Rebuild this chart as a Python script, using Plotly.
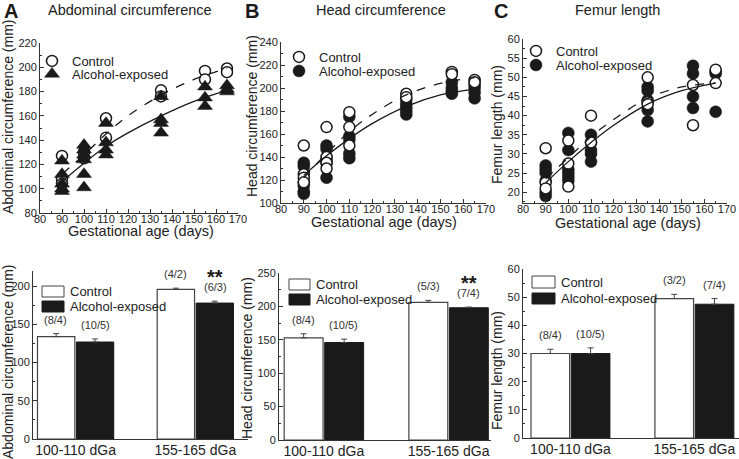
import plotly.graph_objects as go

W, H = 739, 459

# ---- growth data ----
abd_ctrl_x = [90, 90, 90, 100, 100, 110, 110, 135, 135, 155, 155, 165, 165]
abd_ctrl_y = [127, 108, 104, 130, 125, 158, 142, 181, 176, 197, 190, 199, 196]
abd_alc_x = [90, 90, 90, 90, 90, 100, 100, 100, 100, 100, 100, 110, 110, 110, 110,
             135, 135, 135, 135, 155, 155, 155, 165, 165, 165]
abd_alc_y = [123, 112, 104, 100, 98, 136, 132, 128, 124, 112, 101, 154, 138, 132, 128,
             176, 157, 154, 146, 184, 175, 168, 185, 182, 180]

head_ctrl_x = [90, 90, 90, 90, 100, 100, 100, 100, 110, 110, 110, 135, 135, 155, 155, 165, 165]
head_ctrl_y = [150, 125, 122, 118, 166, 140, 135, 130, 179, 166, 150, 195, 192, 214, 212, 207, 205]
head_alc_x = [90, 90, 90, 90, 90, 90, 100, 100, 100, 100, 100, 110, 110, 110, 110, 110,
              135, 135, 135, 135, 135, 155, 155, 155, 155, 165, 165, 165, 165]
head_alc_y = [135, 132, 118, 115, 110, 108, 150, 147, 138, 135, 122, 175, 158, 155, 143, 139,
              190, 186, 183, 180, 177, 205, 200, 197, 195, 203, 200, 196, 191]

fem_ctrl_x = [90, 90, 90, 100, 100, 100, 110, 110, 135, 135, 135, 155, 155, 165, 165]
fem_ctrl_y = [31.5, 22.5, 21, 33.5, 27.5, 21.5, 40, 33, 50, 43.5, 43, 48, 37.5, 52, 48.5]
fem_alc_x = [90, 90, 90, 90, 90, 90, 100, 100, 100, 100, 100, 100, 110, 110, 110, 110, 110,
             135, 135, 135, 135, 135, 155, 155, 155, 155, 165, 165, 165]
fem_alc_y = [27, 26, 25, 23, 20, 19, 35.5, 31, 26, 25, 24, 23, 35, 33, 31, 30, 28,
             47.5, 46.5, 44, 41.5, 38.5, 53, 51, 45, 42, 51.5, 51, 41]

# fitted curves
fit_x = [90, 100, 110, 120, 135, 150, 165]
abd_ctrl_fit = [112, 128, 145, 160, 177, 190, 199]
abd_alc_fit = [106, 121, 135, 146, 160, 172, 181]
head_ctrl_fit = [122, 143, 162, 177, 194, 204, 209]
head_alc_fit = [124, 141, 156, 169, 184, 194, 199]
fem_ctrl_fit = [23.5, 29, 34.5, 39, 44.5, 47.5, 48.5]
fem_alc_fit = [22.5, 28, 33, 37.5, 43, 46.5, 48.5]

# ---- group means ----
groups = ["100-110 dGa", "155-165 dGa"]
abd_ctrl_mean, abd_ctrl_err = [134, 196], [4, 1.5]
abd_alc_mean, abd_alc_err = [127, 178], [4, 2.5]
head_ctrl_mean, head_ctrl_err = [153, 206], [6, 3]
head_alc_mean, head_alc_err = [146, 198], [5, 1]
fem_ctrl_mean, fem_ctrl_err = [30, 49.5], [1.5, 1.5]
fem_alc_mean, fem_alc_err = [30, 47.5], [2, 2]
abd_n_ctrl, abd_n_alc = ["(8/4)", "(4/2)"], ["(10/5)", "(6/3)"]
head_n_ctrl, head_n_alc = ["(8/4)", "(5/3)"], ["(10/5)", "(7/4)"]
fem_n_ctrl, fem_n_alc = ["(8/4)", "(3/2)"], ["(10/5)", "(7/4)"]

FONT = "Liberation Sans, Arial, sans-serif"
INK = "#1a1a1a"
TXT = "#222"


def px(x):
    return x / W


def py(y):
    return 1 - y / H


fig = go.Figure()

top_panels = [
    ("", abd_ctrl_x, abd_ctrl_y, abd_alc_x, abd_alc_y, abd_ctrl_fit, abd_alc_fit, "triangle-up"),
    ("2", head_ctrl_x, head_ctrl_y, head_alc_x, head_alc_y, head_ctrl_fit, head_alc_fit, "circle"),
    ("3", fem_ctrl_x, fem_ctrl_y, fem_alc_x, fem_alc_y, fem_ctrl_fit, fem_alc_fit, "circle"),
]
for i, (s, cx, cy, ax_, ay, cfit, afit, sym) in enumerate(top_panels):
    xa, ya = "x" + s, "y" + s
    leg_c = "legend" if i == 0 else "legend%d" % (2 * i + 1)
    leg_a = "legend%d" % (2 * i + 2)
    ctrl = go.Scatter(x=cx, y=cy, mode="markers", name="Control", legend=leg_c,
                      xaxis=xa, yaxis=ya,
                      marker=dict(symbol="circle", size=11, color="white",
                                  line=dict(color=INK, width=1.5)))
    alc = go.Scatter(x=ax_, y=ay, mode="markers", name="Alcohol-exposed", legend=leg_a,
                     xaxis=xa, yaxis=ya,
                     marker=dict(symbol=sym, size=12 if sym == "circle" else 13, color=INK,
                                 line=dict(color=INK, width=0.5)))
    if i == 0:
        fig.add_trace(ctrl)
        fig.add_trace(alc)
    else:
        fig.add_trace(alc)
        fig.add_trace(ctrl)
    fig.add_trace(go.Scatter(x=fit_x, y=cfit, mode="lines", showlegend=False,
                             xaxis=xa, yaxis=ya, line=dict(color=INK, width=1.3, dash="dash",
                                                           shape="spline")))
    fig.add_trace(go.Scatter(x=fit_x, y=afit, mode="lines", showlegend=False,
                             xaxis=xa, yaxis=ya, line=dict(color=INK, width=1.3, shape="spline")))

bot_panels = [
    ("4", abd_ctrl_mean, abd_ctrl_err, abd_alc_mean, abd_alc_err, abd_n_ctrl, abd_n_alc, True),
    ("5", head_ctrl_mean, head_ctrl_err, head_alc_mean, head_alc_err, head_n_ctrl, head_n_alc, True),
    ("6", fem_ctrl_mean, fem_ctrl_err, fem_alc_mean, fem_alc_err, fem_n_ctrl, fem_n_alc, False),
]
annotations = []
for s, cm, ce, am, ae, cn, an, star in bot_panels:
    xa, ya = "x" + s, "y" + s
    fig.add_trace(go.Bar(x=groups, y=cm, name="Control", showlegend=False, xaxis=xa, yaxis=ya,
                         marker=dict(color="white", line=dict(color="#444", width=1.2)),
                         error_y=dict(type="data", array=ce, arrayminus=[0, 0], symmetric=False,
                                      color="#444", thickness=1, width=3)))
    fig.add_trace(go.Bar(x=groups, y=am, name="Alcohol-exposed", showlegend=False,
                         xaxis=xa, yaxis=ya,
                         marker=dict(color=INK, line=dict(color=INK, width=1)),
                         error_y=dict(type="data", array=ae, arrayminus=[0, 0], symmetric=False,
                                      color="#444", thickness=1, width=3)))
    for k, g in enumerate(groups):
        annotations.append(dict(x=g, y=cm[k] + ce[k], xref=xa, yref=ya, text=cn[k],
                                xshift=-20, yshift=6, yanchor="bottom", showarrow=False,
                                font=dict(size=11, color="#333")))
        annotations.append(dict(x=g, y=am[k] + ae[k], xref=xa, yref=ya, text=an[k],
                                xshift=20, yshift=6, yanchor="bottom", showarrow=False,
                                font=dict(size=11, color="#333")))
    if star:
        annotations.append(dict(x=groups[1], y=am[1] + ae[1], xref=xa, yref=ya, text="<b>**</b>",
                                xshift=20, yshift=11, yanchor="bottom", showarrow=False,
                                font=dict(size=20, color=INK)))

# ---- axes (Origin style: ticks point inwards) ----
axis_common = dict(showline=True, linecolor="#333", linewidth=1, ticks="inside", ticklen=4,
                   tickcolor="#333", showgrid=False, zeroline=False, automargin=False,
                   tickfont=dict(size=11, family=FONT, color=TXT), mirror=False)
top_x_dom = [(40, 238), (281, 486), (523, 727)]
top_y_dom = [(43, 213), (42, 203), (39, 203)]
top_y_rng = [(80, 220), (100, 240), (17.2, 60)]
top_y_dt = [20, 20, 5]
y_titles = ["Abdominal circumference (mm)", "Head circumference (mm)", "Femur length (mm)"]
for i, s in enumerate(["", "2", "3"]):
    fig.update_layout(**{
        "xaxis" + s: dict(axis_common, domain=[px(top_x_dom[i][0]), px(top_x_dom[i][1])],
                          anchor="y" + s, range=[80, 170], dtick=10, tick0=80,
                          ticklabelstandoff=-4,
                          minor=dict(ticks="inside", ticklen=2, dtick=5, tickcolor="#333")),
        "yaxis" + s: dict(axis_common, domain=[py(top_y_dom[i][1]), py(top_y_dom[i][0])],
                          anchor="x" + s, range=list(top_y_rng[i]), dtick=top_y_dt[i],
                          tick0=0,
                          minor=dict(ticks="inside", ticklen=2, dtick=top_y_dt[i] / 2,
                                     tickcolor="#333")),
    })

bot_x_dom = [(33, 248), (279, 491), (523, 739)]
bot_y_dom = [(271, 439), (273, 440), (269, 438)]
bot_x_rng = [(-0.356, 1.44), (-0.36, 1.34), (-0.383, 1.36)]
bot_y_rng = [(0, 220), (0, 250), (0, 60)]
bot_y_dt = [50, 50, 10]
for i, s in enumerate(["4", "5", "6"]):
    fig.update_layout(**{
        "xaxis" + s: dict(axis_common, domain=[px(bot_x_dom[i][0]), px(bot_x_dom[i][1])],
                          anchor="y" + s, range=list(bot_x_rng[i]), ticks="", type="category",
                          ticklabelstandoff=-2,
                          tickfont=dict(size=14, family=FONT, color=TXT)),
        "yaxis" + s: dict(axis_common, domain=[py(bot_y_dom[i][1]), py(bot_y_dom[i][0])],
                          anchor="x" + s, range=list(bot_y_rng[i]), dtick=bot_y_dt[i],
                          minor=dict(ticks="inside", ticklen=2, dtick=bot_y_dt[i] / 2,
                                     tickcolor="#333")),
    })

# ---- axis titles as text (placed in pixel space) ----
x_title_pos = [(141, 231), (384, 222), (628, 223)]
for tx, ty in x_title_pos:
    annotations.append(dict(x=px(tx), y=py(ty), xref="paper", yref="paper",
                            text="Gestational age (days)", showarrow=False,
                            xanchor="center", yanchor="middle",
                            font=dict(size=14.5, family=FONT, color=TXT)))
y_title_pos = [(8, 117, 0), (252, 116, 1), (497, 125, 2),
               (8, 362, 0), (247, 358, 1), (497, 371, 2)]
for tx, ty, k in y_title_pos:
    annotations.append(dict(x=px(tx), y=py(ty), xref="paper", yref="paper",
                            text=y_titles[k], showarrow=False, textangle=-90,
                            xanchor="center", yanchor="middle",
                            font=dict(size=14, family=FONT, color=TXT)))

# ---- panel letters and titles ----
for letter, lx, title, tx in [("A", 2, "Abdominal circumference", 130),
                              ("B", 243, "Head circumference", 381),
                              ("C", 492, "Femur length", 617)]:
    annotations.append(dict(x=px(lx), y=py(11), xref="paper", yref="paper",
                            text="<b>%s</b>" % letter, xanchor="left", yanchor="middle",
                            showarrow=False, font=dict(size=20, family=FONT, color=INK)))
    annotations.append(dict(x=px(tx), y=py(10), xref="paper", yref="paper", text=title,
                            xanchor="center", yanchor="middle", showarrow=False,
                            font=dict(size=14.5, family=FONT, color=TXT)))

# ---- bar-chart legends drawn as swatches ----
shapes = []
bar_leg = [(42, (286, 297), (301, 312), 68),
           (289, (279, 290), (294, 305), 314),
           (532, (276, 288), (293, 304), 559)]
for x0, (cy0, cy1), (ay0, ay1), tx in bar_leg:
    x1 = tx - 4
    shapes.append(dict(type="rect", xref="paper", yref="paper", x0=px(x0), x1=px(x1),
                       y0=py(cy1), y1=py(cy0), fillcolor="white", line=dict(color="#444", width=1)))
    shapes.append(dict(type="rect", xref="paper", yref="paper", x0=px(x0), x1=px(x1),
                       y0=py(ay1), y1=py(ay0), fillcolor=INK, line=dict(color=INK, width=1)))
    annotations.append(dict(x=px(tx), y=py((cy0 + cy1) / 2), xref="paper", yref="paper",
                            text="Control", xanchor="left", yanchor="middle", showarrow=False,
                            font=dict(size=13, family=FONT, color=TXT)))
    annotations.append(dict(x=px(tx), y=py((ay0 + ay1) / 2), xref="paper", yref="paper",
                            text="Alcohol-exposed", xanchor="left", yanchor="middle",
                            showarrow=False, font=dict(size=13, family=FONT, color=TXT)))

# one legend per entry so that the rows sit as close as in the reference
leg_common = dict(bgcolor="rgba(0,0,0,0)", font=dict(size=13, family=FONT, color=TXT),
                  xanchor="left", yanchor="middle", itemwidth=30)
leg_pos = [(32, 61), (32, 74), (279, 57), (279, 71), (516, 51), (516, 65)]
legends = {}
for n, (lx, ly) in enumerate(leg_pos):
    key = "legend" if n == 0 else "legend%d" % (n + 1)
    legends[key] = dict(leg_common, x=px(lx), y=py(ly))

fig.update_layout(
    width=W, height=H,
    margin=dict(l=0, r=0, t=0, b=0, autoexpand=False),
    paper_bgcolor="white", plot_bgcolor="white",
    font=dict(family=FONT, color=TXT),
    barmode="group", bargap=0.35, bargroupgap=0.04,
    showlegend=True,
    annotations=annotations,
    shapes=shapes,
    **legends,
)

fig.write_html("out.html", config={"displayModeBar": False},
               post_script="document.body.style.margin='0';")
